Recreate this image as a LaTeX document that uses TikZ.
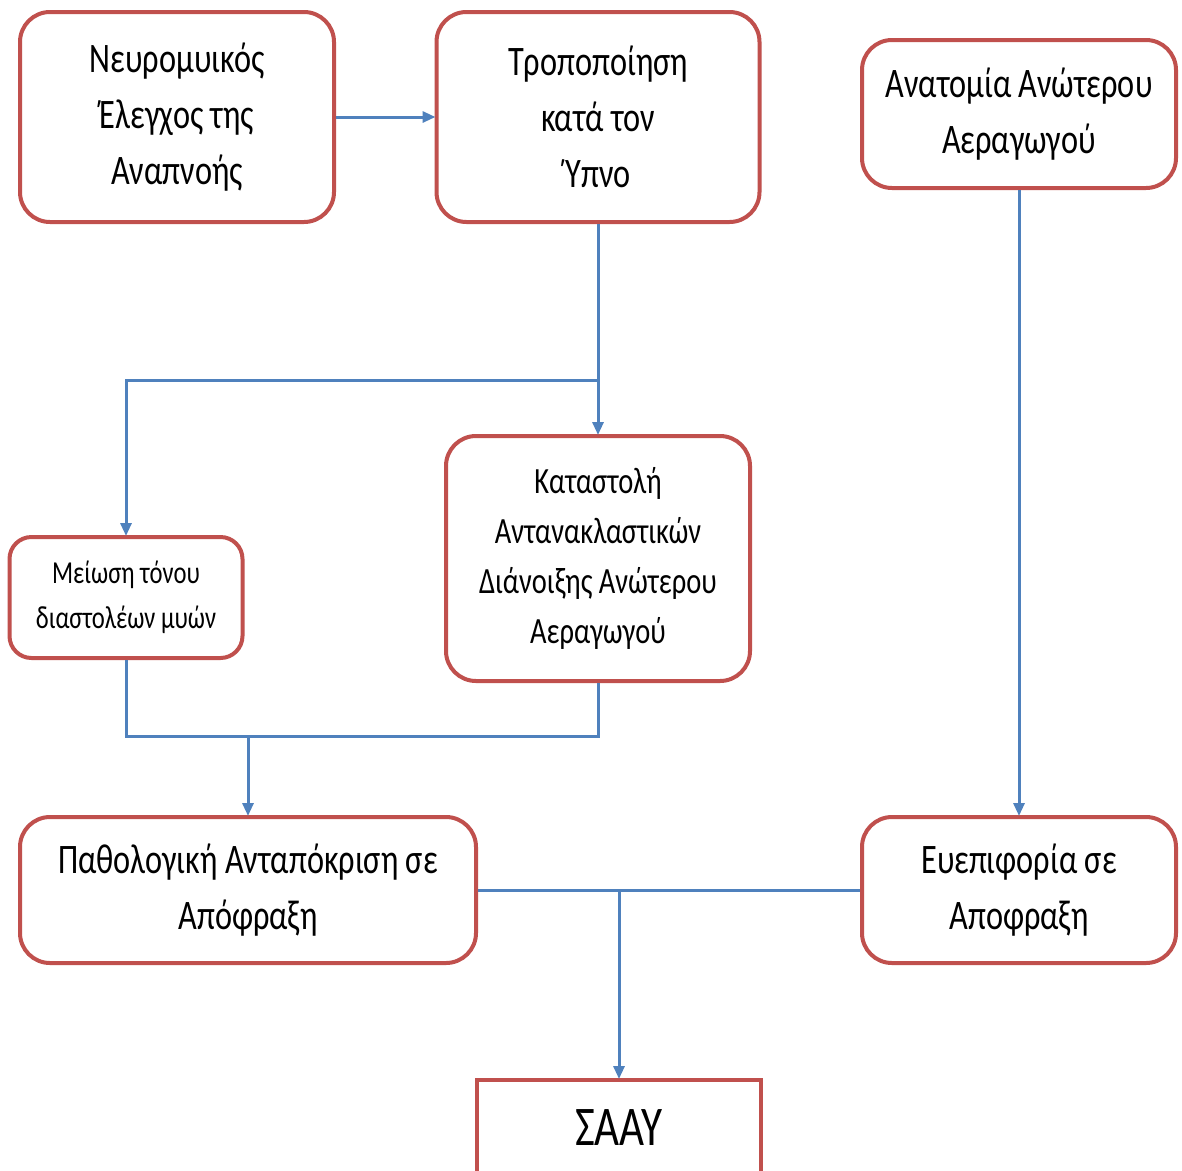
\documentclass[tikz,border=0pt]{standalone}
\usepackage{fontspec}
\setmainfont{Carlito}[FakeStretch=0.77]
\usetikzlibrary{arrows.meta}
\definecolor{boxred}{HTML}{C0504D}
\definecolor{lineblue}{HTML}{4F81BD}
\tikzset{
  rbox/.style={draw=boxred, line width=4pt, rounded corners=30pt, fill=white,
    align=center, inner sep=0pt, font=\fontsize{42}{56}\selectfont},
  sbox/.style={draw=boxred, line width=4pt, fill=white,
    align=center, inner sep=0pt, font=\fontsize{56}{60}\selectfont},
  link/.style={draw=lineblue, line width=3pt},
  conn/.style={link, -{Triangle[length=13pt,width=11pt]}, shorten >=-1pt}
}
\begin{document}
\begin{tikzpicture}[x=1pt,y=1pt]
\useasboundingbox (0,0) rectangle (1182,-1170);
\fill[white] (0,0) rectangle (1182,-1170);
\node[rbox, minimum width=314pt, minimum height=210pt] (n1) at (177,-117) {Νευρομυικός\\Έλεγχος της\\Αναπνοής};
\node[rbox, minimum width=323pt, minimum height=210pt] (n2) at (598,-117) {Τροποποίηση\\κατά τον\\Ύπνο};
\node[rbox, minimum width=314pt, minimum height=148pt] (n3) at (1019,-114) {Ανατομία Ανώτερου\\Αεραγωγού};
\node[rbox, minimum width=233pt, minimum height=121pt, rounded corners=22pt, font=\fontsize{32}{45}\selectfont] (n4) at (126,-597.5) {Μείωση τόνου\\διαστολέων μυών};
\node[rbox, minimum width=304pt, minimum height=245pt, font=\fontsize{37}{50}\selectfont] (n5) at (598,-558.5) {Καταστολή\\Αντανακλαστικών\\Διάνοιξης Ανώτερου\\Αεραγωγού};
\node[rbox, minimum width=456pt, minimum height=146pt] (n6) at (248,-890) {Παθολογική Ανταπόκριση σε\\Απόφραξη};
\node[rbox, minimum width=314pt, minimum height=146pt] (n7) at (1019,-890) {Ευεπιφορία σε\\Αποφραξη};
\node[sbox, minimum width=284pt, minimum height=96pt] (n8) at (619,-1128) {ΣΑΑΥ};
\coordinate (j1) at (598,-380);
\coordinate (j2) at (248,-736);
\coordinate (j3) at (619,-890);
\draw[conn] (n1.east) -- (n2.west);
\draw[link] (n2.south) -- (j1);
\draw[conn] (j1) -- (n5.north);
\draw[conn] (j1) -| (n4.north);
\draw[link] (n4.south) |- (n5.south |- j2) -- (n5.south);
\draw[conn] (j2) -- (n6.north);
\draw[conn] (n3.south) -- (n7.north);
\draw[link] (n6.east) -- (n7.west);
\draw[conn] (j3) -- (n8.north);
\end{tikzpicture}
\end{document}
